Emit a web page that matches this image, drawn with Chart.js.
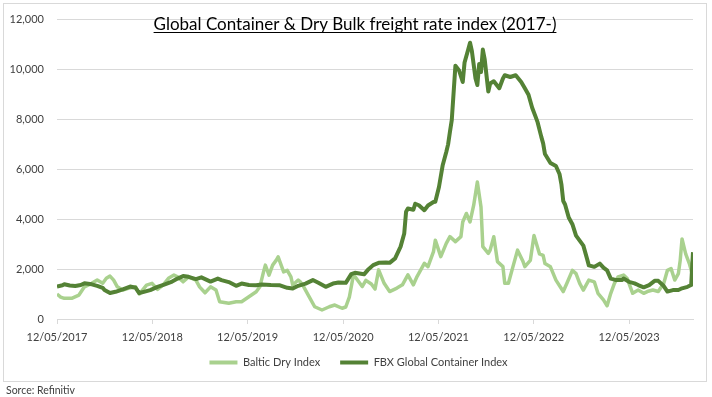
<!DOCTYPE html>
<html>
<head>
<meta charset="utf-8">
<script src="https://cdn.jsdelivr.net/npm/chart.js@4.4.1/dist/chart.umd.min.js"></script>
<style>
  body { margin: 0; background: #fff; }
</style>
</head>
<body>
<canvas id="freightChart" width="712" height="397"></canvas>
<script>
// weeks counted from 12/05/2017
const bdiWeeks = [0,2,4,8,12,15,19,22,25,27,29,31,33,36,39,43,45,49,52,55,58,61,64,66,69,72,76,78,81,84,87,89,94,98,101,105,109,111,113,114,116,118,120,121,122,124,126,128,129,132,133,135,138,141,145,149,152,156,158,160,162,163,165,167,169,172,174,176,179,182,186,189,192,195,197,201,203,206,207,210,213,215,218,221,222,224,226,228,230,232,233,236,237,239,241,244,245,247,249,252,255,256,259,261,264,266,267,270,273,277,279,282,284,286,288,291,294,296,299,301,303,305,307,310,312,315,318,321,323,326,329,332,334,336,338,340,341,342,344,346,348]
const bdiValues = [1000,880,830,830,960,1290,1430,1560,1430,1630,1720,1560,1290,1160,1230,1290,1000,1360,1430,1190,1360,1630,1760,1690,1490,1690,1560,1290,1050,1290,1160,690,630,690,690,890,1090,1290,1890,2160,1760,2160,2360,2490,2290,1890,1950,1690,1360,1560,1500,1290,890,490,360,490,560,430,480,890,1690,1700,1500,1300,1550,1400,1200,1970,1430,1100,1240,1370,1770,1370,1700,2230,2100,2700,3160,2500,3030,3300,3100,3300,3890,4230,3890,4560,5490,4490,2900,2630,2760,3300,2300,2100,1430,1430,1970,2760,2300,2100,2350,3350,2610,2550,2220,2090,1560,1100,1430,1950,1820,1430,1160,1560,1490,1030,770,530,1030,1430,1690,1760,1620,1030,1160,1030,1100,1160,1100,1430,1950,2020,1560,1820,2350,3210,2610,2220,1690]

const fbxWeeks = [0,3,4,7,10,13,15,19,22,25,26,29,32,36,40,43,45,48,51,55,59,63,66,69,72,76,79,84,88,90,94,98,101,105,109,112,117,122,126,129,132,136,140,143,147,151,154,158,161,163,168,170,173,176,180,182,185,188,190,191,192,195,196,198,201,203,206,207,209,211,213,214,215,216,218,220,222,223,225,226,227,229,230,231,232,233,234,236,237,239,242,244,245,248,251,254,256,258,260,262,263,265,266,267,270,273,275,276,277,278,280,282,284,286,288,290,291,294,297,299,301,303,306,309,310,313,316,318,321,324,327,329,332,334,337,340,342,345,347,348]
const fbxValues = [1300,1350,1390,1340,1320,1360,1430,1390,1330,1250,1160,1040,1090,1190,1300,1250,1040,1100,1160,1290,1390,1500,1620,1720,1690,1600,1670,1500,1620,1560,1480,1330,1420,1360,1350,1380,1360,1350,1250,1220,1330,1420,1560,1450,1290,1420,1460,1450,1800,1850,1790,1960,2160,2250,2260,2250,2430,2900,3430,4300,4430,4380,4620,4560,4360,4550,4690,4700,5290,6150,6690,7000,7500,7970,10150,9960,9500,10280,10800,11070,10740,9640,9380,10220,9900,10800,10420,9120,9440,9530,9250,9640,9770,9700,9770,9500,9250,8990,8470,8080,7880,7300,7040,6610,6250,6130,5800,5400,4730,4590,4070,3800,3340,3140,2940,2420,2150,2090,2220,2060,1950,1620,1560,1560,1620,1490,1430,1360,1270,1360,1530,1530,1320,1100,1160,1160,1230,1290,1360,2680]

const tickWeeks = [0,52.14,104.29,156.57,208.71,260.86,313]
const tickLabels = ['12/05/2017','12/05/2018','12/05/2019','12/05/2020','12/05/2021','12/05/2022','12/05/2023']

const titleText = 'Global Container & Dry Bulk freight rate index (2017-)'
const sourceText = 'Sorce: Refinitiv'

Chart.defaults.font.family = 'Lato'

const framePlugin = {
    id: 'frame',
    afterLayout(chart) {
        // nudge legend: centred on the whole frame and a bit closer to the axis
        chart.legend.left += 12
        chart.legend.right += 12
        chart.legend.top -= 8
        chart.legend.bottom -= 8
    },
    beforeDraw(chart) {
        const ctx = chart.ctx
        ctx.save()
        ctx.fillStyle = '#fff'
        ctx.fillRect(0, 0, chart.width, chart.height)
        ctx.strokeStyle = '#d9d9d9'
        ctx.lineWidth = 1
        ctx.strokeRect(3.5, 3.5, 703, 378)
        ctx.restore()
    },
    afterDraw(chart) {
        const ctx = chart.ctx
        ctx.save()
        ctx.font = '17px Lato'
        ctx.fillStyle = '#000'
        ctx.textAlign = 'center'
        ctx.textBaseline = 'alphabetic'
        const cx = 355
        ctx.fillText(titleText, cx, 30)
        const w = ctx.measureText(titleText).width
        ctx.fillRect(cx - w / 2, 32, w, 1)
        ctx.font = '10.5px Lato'
        ctx.fillStyle = '#404040'
        ctx.textAlign = 'left'
        ctx.fillText(sourceText, 6, 394)
        ctx.restore()
    }
}

const ctx = document.getElementById('freightChart').getContext('2d')
const myChart = new Chart(ctx, {
    type: 'line',
    data: {
        datasets: [{
            label: 'Baltic Dry Index',
            data: bdiWeeks.map((w, i) => ({ x: w, y: bdiValues[i] })),
            borderColor: '#a9d18e',
            backgroundColor: '#a9d18e',
            borderWidth: 3.5,
            pointRadius: 0,
            tension: 0,
            borderJoinStyle: 'round',
            order: 2
        }, {
            label: 'FBX Global Container Index',
            data: fbxWeeks.map((w, i) => ({ x: w, y: fbxValues[i] })),
            borderColor: '#548235',
            backgroundColor: '#548235',
            borderWidth: 4,
            pointRadius: 0,
            tension: 0,
            borderJoinStyle: 'round',
            order: 1
        }]
    },
    options: {
        responsive: false,
        animation: false,
        devicePixelRatio: 1,
        layout: { padding: { left: 0, right: 19, top: 17, bottom: 11 } },
        scales: {
            x: {
                type: 'linear',
                min: 0,
                max: 348,
                afterBuildTicks(scale) {
                    scale.ticks = tickWeeks.map(v => ({ value: v }))
                },
                afterFit(scale) { scale.height = 26 },
                ticks: {
                    autoSkip: false,
                    maxRotation: 0,
                    padding: 7,
                    color: '#404040',
                    font: { size: 11 },
                    callback: (v, i) => tickLabels[i]
                },
                grid: { drawOnChartArea: false, tickLength: 5, color: '#d9d9d9' },
                border: { color: '#d9d9d9' }
            },
            y: {
                min: 0,
                max: 12000,
                afterFit(scale) { scale.width = 57 },
                ticks: {
                    stepSize: 2000,
                    padding: 13,
                    color: '#404040',
                    font: { size: 11 },
                    callback: v => v.toLocaleString('en-US')
                },
                grid: { color: '#d9d9d9', drawTicks: false },
                border: { display: false }
            }
        },
        plugins: {
            legend: {
                position: 'bottom',
                labels: {
                    boxWidth: 28,
                    boxHeight: 4,
                    padding: 20,
                    color: '#404040',
                    font: { size: 11 },
                    sort: (a, b) => a.datasetIndex - b.datasetIndex,
                    generateLabels: chart => Chart.defaults.plugins.legend.labels.generateLabels(chart).map(l => ({ ...l, lineWidth: 0 }))
                }
            },
            tooltip: { enabled: false }
        }
    },
    plugins: [framePlugin]
})
</script>
</body>
</html>
